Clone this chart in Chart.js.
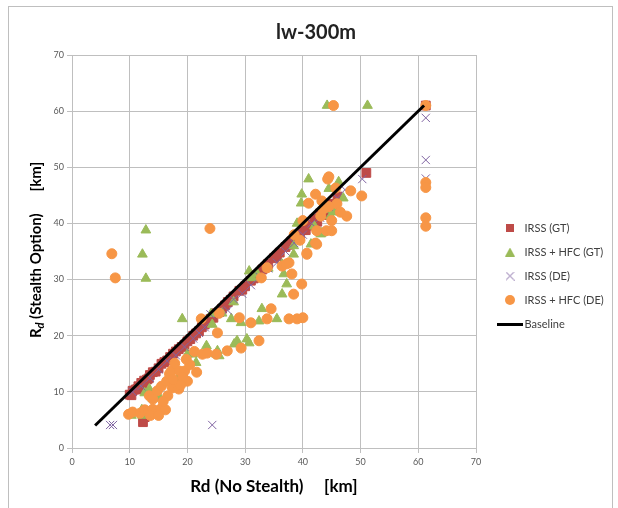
<!DOCTYPE html>
<html>
<head>
<meta charset="utf-8">
<script src="https://cdn.jsdelivr.net/npm/chart.js@4/dist/chart.umd.min.js"></script>
<style>
html,body{margin:0;padding:0;background:#fff;}
canvas{display:block;}
</style>
</head>
<body>
<canvas id="c" width="618" height="508"></canvas>
<script>
// ---- data ----
const TITLE = "lw-300m";
const X_TITLE = "Rd (No Stealth)     [km]";
const SERIES_NAMES = ["IRSS (GT)", "IRSS + HFC (GT)", "IRSS (DE)", "IRSS + HFC (DE)", "Baseline"];
const AXIS_TICKS = [0, 10, 20, 30, 40, 50, 60, 70];

const gtX = [10,10.5,11,11.5,12,12.5,13,13.5,14,15,15.5,16,17,17.5,18,19,20,21,22,22.5,23,24,25,26,27,28,29,30,31,32,33,34,35,36,37,38,39,40,41,42,43,44,45,46,51,61.3,12.3,12.6,
  10.3,11.3,12.3,13.3,14.5,16.5,18.5,19.5,20.5,21.5,23.5,24.5,25.5,26.5,27.5,29.5,31.5,33.5,35.5,37.5,39.5,40.5,41.5,42.5,43.5,44.5];
const gtY = [9.5,10.2,10.4,11,11.6,12,12.2,13,13.5,14.2,15,15.3,16.2,16.8,17.2,18,19,20,20.8,21.5,22,23,24,24.8,26,27,28,28.8,29.8,30.8,31.8,32.8,33.8,34.8,35.8,36.8,37.8,38.8,39.8,40.8,41.8,42.5,43.5,44.8,49,61,4.6,5.5,
  9.4,10.5,11.2,12.4,13.6,15.6,17.6,18.4,19.4,20.4,22.4,23.2,24.2,25.4,26.4,28.2,30.2,32.2,34.2,36.2,37.9,38.8,39.6,40.3,41.5,42.2];

const hfcGtX = [12.8,12.2,12.8,19.1,44.2,51.2,10.3,12.2,12.1,12.6,13.4,14,15.2,18.3,20,20.9,21.5,23.3,25,25.5,25.2,28.1,28.6,30.3,30.7,24.1,24.3,27.6,29.3,32.4,32.9,35.5,36.4,37.2,36.7,36.4,38.4,38.4,30.7,31.2,32.1,41.4,43.1,39,39.7,39.8,41,44.5,46.2,45.7,44.8,43.3,44.2,26,28,34,42,45,47];
const hfcGtY = [38.8,34.5,30.2,23.0,61,61,5.8,5.8,6.8,9.8,10.5,8.8,9,12.3,16.7,16.7,15.2,18.2,16.7,16.4,17.3,18.5,19.1,19.4,18.7,23.9,22,23,22.3,22.6,24.8,23,27.4,29.2,31,32.7,34.5,36,31.5,30.3,31,36.3,38.1,40,43.6,45.2,47.9,46.2,47.4,42,41.3,38.3,38.5,24,26,32,39.5,42.5,44.5];

const deX = [6.6,7.1,24.3,61.3,61.3,61.3,10.5,12,13.5,15,16.5,18,19.5,21,22,23,24,25.5,27,28,29.5,31,32.5,34,35.5,37,38.5,40,41.5,43,44.5,46,47.3,50.3];
const deY = [4.1,4.1,4.1,58.8,51.3,48,10,11,12.5,14,15.5,16.5,18,19.5,20.5,21.5,23.8,24.2,24.5,26.5,27.5,29,30.5,32,33,35,36.5,38,40,41,43,44.5,46,47.9];

const hfcDeX = [6.9,7.5,23.9,45.3,61.3,61.3,61.3,61.3,61.3,
  9.8,10.5,11.8,12.6,13.3,14,14.7,15.4,16.2,13.6,15,
  13.4,14,14.8,15.5,16.4,16.9,17.2,18.6,19.5,17.8,20,16.6,17.4,15.8,18.5,19.2,20.4,21.2,22.6,23.4,25,26.9,29.3,32.4,18.8,21.6,19.8,17.5,
  22.4,25.5,25.2,29,31,34.5,33.8,37.6,39,40,33.8,32.8,36.4,37.6,37.2,38.1,39.8,38.4,40.7,42.4,42.2,
  44.3,42.2,41,45.7,48.3,50.2,47.6,43.3,45.9,44.5,43.1,44.1,42.4,45,40.7,46.5,45,43.5,40,38.5,39.5,44.5];
const hfcDeY = [34.6,30.3,39.1,61,61,47.3,46.4,41,39.5,
  6,6.4,6.2,6.8,6.5,6.9,6.6,7,6.8,5.8,5.8,
  9.3,8.7,10.2,11,11.9,13.2,13.7,13.7,13.7,15.1,11.9,9.3,10.7,8.3,10.5,12.5,14.8,17.2,16.7,16.9,16.7,17.3,17.8,19.1,11.2,13.5,15.8,12.2,
  23,24,20.5,23.2,22.3,24.8,23,23,23,23.2,32.1,30.3,32.4,33,32.8,31,29.2,27.4,34.5,36.3,36.5,
  47.9,45.2,43.6,46.3,45.8,44.9,41.3,44,43.5,43,41.3,38.7,38.7,38.7,34.7,42,40.5,42.5,40.5,38,37,48.3];

const baseX = [4, 61];
const baseY = [4, 61];

// ---- helpers ----
const pts = (xs, ys) => xs.map((x, i) => ({x: x, y: ys[i]}));
function icon(w, h, draw){ const c = document.createElement('canvas'); c.width = w; c.height = h; draw(c.getContext('2d')); return c; }
const COLORS = ['#BE4B48', '#9BBB59', '#8064A2', '#F79646', '#000000'];
const ICONS = [
  icon(8, 8, g => { g.fillStyle = COLORS[0]; g.fillRect(0, 0, 8, 8); }),
  icon(10, 9, g => { g.fillStyle = COLORS[1]; g.beginPath(); g.moveTo(5, 0); g.lineTo(10, 9); g.lineTo(0, 9); g.closePath(); g.fill(); }),
  icon(9, 9, g => { g.strokeStyle = COLORS[2]; g.lineWidth = 1; g.beginPath(); g.moveTo(0.5, 0.5); g.lineTo(8.5, 8.5); g.moveTo(8.5, 0.5); g.lineTo(0.5, 8.5); g.stroke(); }),
  icon(10, 10, g => { g.fillStyle = COLORS[3]; g.beginPath(); g.arc(5, 5, 5, 0, Math.PI * 2); g.fill(); }),
  icon(26, 3, g => { g.fillStyle = COLORS[4]; g.fillRect(0, 0, 26, 3); })
];

const FONT = 'Lato, "Open Sans", sans-serif';
const GRID = '#BFBFBF';
const TICK_COLOR = '#595959';

const chromePlugin = {
  id: 'chrome',
  beforeLayout(chart){
    const lg = chart.legend;
    if (lg && !lg._fixed){
      const f = lg.fit;
      lg.fit = function(){ f.call(this); this.width = 142; };
      lg._fixed = true;
    }
  },
  afterLayout(chart){
    const lg = chart.legend;
    if (lg){
      const w = lg.width;
      lg.left = 488; lg.right = 488 + w;
      lg.top = 100; lg.bottom = 452;
    }
  },
  beforeDraw(chart){
    const g = chart.ctx;
    g.save();
    g.fillStyle = '#fff'; g.fillRect(0, 0, chart.width, chart.height);
    g.strokeStyle = '#BFBFBF'; g.lineWidth = 1;
    g.strokeRect(8.5, 6.5, 604, 520);
    g.restore();
  },
  afterDraw(chart){
    const g = chart.ctx;
    g.save();
    g.translate(36, 250);
    g.rotate(-Math.PI / 2);
    g.fillStyle = '#000';
    g.textBaseline = 'middle';
    const f1 = 'bold 15px ' + FONT, f2 = 'bold italic 11px ' + FONT;
    const p1 = 'R', p2 = 'd', p3 = ' (Stealth Option)      [km]';
    g.font = f1; const w1 = g.measureText(p1).width, w3 = g.measureText(p3).width;
    g.font = f2; const w2 = g.measureText(p2).width;
    let x = -(w1 + w2 + w3) / 2;
    g.font = f1; g.fillText(p1, x, 0); x += w1;
    g.font = f2; g.fillText(p2, x, 4); x += w2;
    g.font = f1; g.fillText(p3, x, 0);
    g.restore();
  }
};

const scatterBase = {type: 'scatter', borderWidth: 1, pointHoverRadius: 6};

new Chart(document.getElementById('c'), {
  type: 'scatter',
  data: {
    datasets: [
      Object.assign({}, scatterBase, {label: SERIES_NAMES[0], data: pts(gtX, gtY), pointStyle: 'rect', pointRadius: 6.2, backgroundColor: COLORS[0], borderColor: COLORS[0], order: 4}),
      Object.assign({}, scatterBase, {label: SERIES_NAMES[1], data: pts(hfcGtX, hfcGtY), pointStyle: 'triangle', pointRadius: 5.6, backgroundColor: COLORS[1], borderColor: COLORS[1], order: 3}),
      Object.assign({}, scatterBase, {label: SERIES_NAMES[2], data: pts(deX, deY), pointStyle: 'crossRot', pointRadius: 5.8, backgroundColor: COLORS[2], borderColor: COLORS[2], order: 2}),
      Object.assign({}, scatterBase, {label: SERIES_NAMES[3], data: pts(hfcDeX, hfcDeY), pointStyle: 'circle', pointRadius: 5, backgroundColor: COLORS[3], borderColor: COLORS[3], order: 1}),
      {type: 'line', label: SERIES_NAMES[4], data: pts(baseX, baseY), borderColor: '#000', backgroundColor: '#000', borderWidth: 3, pointRadius: 0, showLine: true, fill: false, order: 0}
    ]
  },
  options: {
    responsive: false,
    animation: false,
    devicePixelRatio: 1,
    layout: {padding: {left: 14, right: 0, top: 0, bottom: 0}},
    plugins: {
      title: {display: true, text: TITLE, color: '#222', font: {family: FONT, size: 20, weight: 'bold'}, padding: {top: 21, bottom: 10}},
      legend: {
        position: 'right',
        align: 'center',
        labels: {
          usePointStyle: true, pointStyleWidth: 18, boxHeight: 11, padding: 13,
          color: '#404040', font: {family: FONT, size: 11},
          sort: (a, b) => a.datasetIndex - b.datasetIndex,
          generateLabels(chart){
            const items = Chart.defaults.plugins.legend.labels.generateLabels(chart);
            items.forEach(it => { it.pointStyle = ICONS[it.datasetIndex]; it.lineWidth = 0; });
            return items;
          }
        }
      },
      tooltip: {enabled: false}
    },
    scales: {
      x: {
        type: 'linear', position: 'bottom', min: 0, max: 70,
        afterFit(s){ s.height = 60; },
        afterBuildTicks(s){ s.ticks = AXIS_TICKS.map(v => ({value: v})); },
        grid: {color: GRID, tickLength: 5, drawTicks: true},
        border: {color: GRID},
        ticks: {color: TICK_COLOR, font: {family: FONT, size: 9}, padding: 4, maxRotation: 0},
        title: {display: true, text: X_TITLE, color: '#000', font: {family: FONT, size: 17, weight: 'bold'}, padding: {top: 0, bottom: 11}}
      },
      y: {
        type: 'linear', position: 'left', min: 0, max: 70,
        afterFit(s){ s.width = 58; },
        afterBuildTicks(s){ s.ticks = AXIS_TICKS.map(v => ({value: v})); },
        grid: {color: GRID, tickLength: 5, drawTicks: true},
        border: {color: GRID},
        ticks: {color: TICK_COLOR, font: {family: FONT, size: 9}, padding: 3},
        title: {display: false}
      }
    }
  },
  plugins: [chromePlugin]
});
</script>
</body>
</html>
